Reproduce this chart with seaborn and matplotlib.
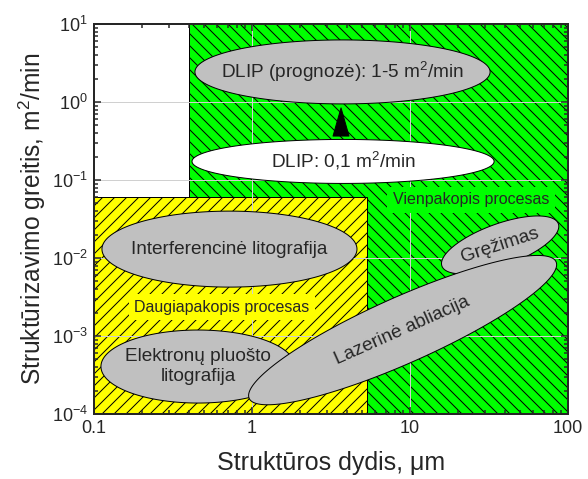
import numpy as np
import matplotlib
matplotlib.use('Agg')
import matplotlib.pyplot as plt
from matplotlib import ticker
import seaborn as sns

# process regions (structure size um, rate m2/min)
single_x = [0.4, 100]
single_y = [1e-4, 10]
multi_x = [0.1, 5.35]
multi_y = [1e-4, 0.06]

# technology ellipses: centre, half width / half height in decades, tilt
tech_names = ['Elektronų pluošto\nlitografija', 'Interferencinė litografija', 'Gręžimas',
              'Lazerinė abliacija', 'DLIP: 0,1 m$^{\\mathrm{2}}$/min',
              'DLIP (prognozė): 1-5 m$^{\\mathrm{2}}$/min']
tech_x = [0.455, 0.72, 37.2, 8.98, 3.77, 3.74]
tech_y = [4.06e-4, 0.0130, 0.0147, 1.19e-3, 0.173, 2.43]
tech_halfw = [0.614, 0.807, 0.392, 1.063, 0.956, 0.934]
tech_halfh = [0.468, 0.487, 0.27, 0.423, 0.282, 0.41]
tech_angle = [0, 0, 20, 24, 0, 0]
tech_text_angle = [0, 0, 18, 24, 0, 0]
tech_color = ['#c0c0c0', '#c0c0c0', '#c0c0c0', '#c0c0c0', 'white', '#c0c0c0']

# region labels
region_names = ['Vienpakopis procesas', 'Daugiapakopis procesas']
region_label_x = [24.3, 0.646]
region_label_y = [0.0555, 2.35e-3]
region_color = ['#00ff00', '#ffff00']

# DLIP improvement arrow
arrow_x = 3.66
arrow_from = 0.366
arrow_to = 0.84

sns.set_style('ticks')
plt.rcParams['font.family'] = ['Liberation Sans', 'DejaVu Sans']
plt.rcParams['mathtext.fontset'] = 'custom'
plt.rcParams['mathtext.rm'] = 'Liberation Sans'
plt.rcParams['mathtext.it'] = 'Liberation Sans:italic'
plt.rcParams['hatch.linewidth'] = 1.0

W, H, DPI = 588, 479, 72
fig = plt.figure(figsize=(W / DPI, H / DPI), dpi=DPI)
pos = [94 / W, 1 - 414 / H, 474 / W, 390 / H]
ax = fig.add_axes(pos)
ax.set_xscale('log')
ax.set_yscale('log')
ax.set_xlim(0.1, 100)
ax.set_ylim(1e-4, 10)

# pixels per decade, used to tilt ellipses on screen
sx = pos[2] * W / 3
sy = pos[3] * H / 5

ax.fill([single_x[0], single_x[1], single_x[1], single_x[0]],
        [single_y[0], single_y[0], single_y[1], single_y[1]],
        facecolor='#00ff00', edgecolor='black', linewidth=1, hatch='\\\\', zorder=1)
ax.fill([multi_x[0], multi_x[1], multi_x[1], multi_x[0]],
        [multi_y[0], multi_y[0], multi_y[1], multi_y[1]],
        facecolor='#ffff00', edgecolor='black', linewidth=1, hatch='//', zorder=1)

ax.grid(True, which='major', color='#d0d0d0', linewidth=1)
ax.set_axisbelow('line')

t = np.linspace(0, 2 * np.pi, 300)
for i in range(len(tech_names)):
    a = tech_halfw[i] * sx
    b = tech_halfh[i] * sy
    th = np.radians(tech_angle[i])
    X = a * np.cos(t) * np.cos(th) - b * np.sin(t) * np.sin(th)
    Y = a * np.cos(t) * np.sin(th) + b * np.sin(t) * np.cos(th)
    lx = np.log10(tech_x[i]) + X / sx
    ly = np.log10(tech_y[i]) + Y / sy
    ax.fill(10 ** lx, 10 ** ly, facecolor=tech_color[i], edgecolor='black',
            linewidth=1, zorder=3)
    ax.text(tech_x[i], tech_y[i], tech_names[i], ha='center', va='center',
            rotation=tech_text_angle[i], rotation_mode='anchor', fontsize=19,
            linespacing=1.25, zorder=4)

ax.annotate('', xy=(arrow_x, arrow_to), xytext=(arrow_x, arrow_from),
            arrowprops=dict(arrowstyle='wedge,tail_width=1.6,shrink_factor=0.5',
                            color='black', shrinkA=0, shrinkB=0), zorder=4)

for i in range(len(region_names)):
    ax.text(region_label_x[i], region_label_y[i], region_names[i], ha='center', va='center',
            fontsize=16, zorder=4,
            bbox=dict(boxstyle='square,pad=0.35', facecolor=region_color[i], edgecolor='none'))

ax.xaxis.set_major_formatter(ticker.FuncFormatter(lambda v, p: f'{v:g}'))
ax.yaxis.set_major_locator(ticker.LogLocator(base=10, numticks=10))
ax.yaxis.set_minor_locator(ticker.LogLocator(base=10, subs=np.arange(2, 10), numticks=20))
ax.yaxis.set_minor_formatter(ticker.NullFormatter())
ax.xaxis.set_minor_formatter(ticker.NullFormatter())
ax.tick_params(which='both', direction='in', top=True, right=True, labelsize=18, width=1.5)
ax.tick_params(which='major', length=7, pad=6)
ax.tick_params(which='minor', length=4)
for s in ax.spines.values():
    s.set_linewidth(2)
    s.set_zorder(5)

ax.set_xlabel('Struktūros dydis, μm', fontsize=25, labelpad=14)
ax.set_ylabel('Struktūrizavimo greitis, m$^{\\mathrm{2}}$/min', fontsize=24.5, labelpad=4)

fig.savefig('out.png', dpi=DPI)
